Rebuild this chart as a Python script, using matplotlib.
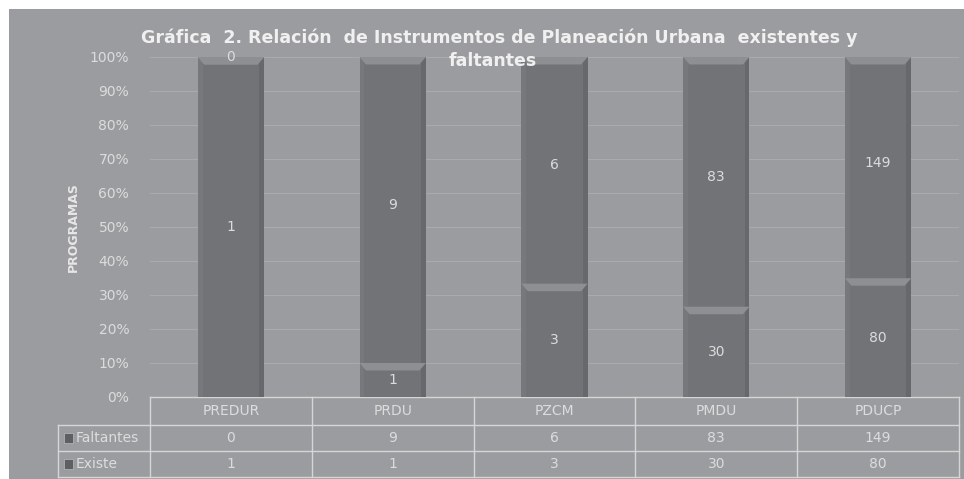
import matplotlib.pyplot as plt
import numpy as np
from matplotlib.patches import Polygon, Rectangle

programas = ["PREDUR", "PRDU", "PZCM", "PMDU", "PDUCP"]
existe = np.array([1, 1, 3, 30, 80])
faltantes = np.array([0, 9, 6, 83, 149])
series = [("Faltantes", faltantes), ("Existe", existe)]

bg = "#9b9c9f"
bar_c = "#727376"
bevel_c = "#8e8f92"
txt_c = "#dcdcdc"

fig = plt.figure(figsize=(9.64, 4.79), dpi=100)
fig.patch.set_facecolor("white")
# fondo gris
fig.add_artist(Rectangle((9/964, 0), 1, 1 - 9/479, transform=fig.transFigure,
                         facecolor=bg, edgecolor="none", zorder=-10))

ax = fig.add_axes([150/964, 1 - 397/479, 809/964, 340/479])
ax.set_facecolor("none")

total = existe + faltantes
p_ex = existe / total * 100
p_fa = faltantes / total * 100
x = np.arange(len(programas))
w = 0.41

ax.bar(x, p_ex, w, color=bar_c, edgecolor="none", zorder=3)
ax.bar(x, p_fa, w, bottom=p_ex, color=bar_c, edgecolor="none", zorder=3)

# bisel superior de cada segmento
for i in range(len(x)):
    for top in (p_ex[i], p_ex[i] + p_fa[i]):
        h = 2.2
        poly = Polygon([[x[i] - w/2, top], [x[i] + w/2, top],
                        [x[i] + w/2 - 0.04, top - h], [x[i] - w/2 + 0.04, top - h]],
                       closed=True, facecolor=bevel_c, edgecolor="none", zorder=4)
        ax.add_patch(poly)
    # bordes laterales
    ax.add_patch(Rectangle((x[i] - w/2, 0), 0.03, 100, facecolor="#77787b",
                           edgecolor="none", zorder=3.5))
    ax.add_patch(Rectangle((x[i] + w/2 - 0.03, 0), 0.03, 100, facecolor="#67686b",
                           edgecolor="none", zorder=3.5))

# etiquetas de datos
for i in range(len(x)):
    ax.text(x[i], p_ex[i] / 2, str(existe[i]), ha="center", va="center",
            color=txt_c, fontsize=10, zorder=5)
    ax.text(x[i], p_ex[i] + p_fa[i] / 2 + (1.5 if p_fa[i] > 0 else 0), str(faltantes[i]),
            ha="center", va="center", color=txt_c, fontsize=10, zorder=5)

ax.set_xlim(-0.5, len(x) - 0.5)
ax.set_ylim(0, 100)
ax.set_yticks(np.arange(0, 101, 10))
ax.set_yticklabels([f"{v}%" for v in range(0, 101, 10)], color=txt_c, fontsize=10)
ax.set_xticks([])
ax.tick_params(axis="y", length=0, pad=15)
ax.grid(axis="y", color="#a9aaac", linewidth=0.8, zorder=0)
for s in ax.spines.values():
    s.set_visible(False)

ax.set_ylabel("PROGRAMAS", color="#e6e6e6", fontsize=9, fontweight="bold")
ax.yaxis.set_label_coords(-70/809, 0.5)

# tabla de datos
line_c = "#d6d6d6"
n = len(programas)
rows_y = [0, -28/340, -54/340, -80/340]
xl = -92/809
kw = dict(transform=ax.transAxes, color=line_c, linewidth=1, clip_on=False)
ax.plot([0, 1], [rows_y[0]] * 2, **kw)
for ry in rows_y[1:]:
    ax.plot([xl, 1], [ry] * 2, **kw)
for k in range(n + 1):
    ax.plot([k / n] * 2, [rows_y[0], rows_y[3]], **kw)
ax.plot([xl] * 2, [rows_y[1], rows_y[3]], **kw)

for k, name in enumerate(programas):
    ax.text((k + 0.5) / n, (rows_y[0] + rows_y[1]) / 2, name, transform=ax.transAxes,
            ha="center", va="center", color=txt_c, fontsize=10)
for r, (lab, vals) in enumerate(series):
    yc = (rows_y[r + 1] + rows_y[r + 2]) / 2
    ax.add_patch(Rectangle((xl + 0.008, yc - 0.014), 0.01, 0.028, transform=ax.transAxes,
                           facecolor="#5e5f62", edgecolor="#bbbbbb", linewidth=0.5,
                           clip_on=False))
    ax.text(xl + 0.022, yc, lab, transform=ax.transAxes, ha="left", va="center",
            color=txt_c, fontsize=10)
    for k, v in enumerate(vals):
        ax.text((k + 0.5) / n, yc, str(v), transform=ax.transAxes,
                ha="center", va="center", color=txt_c, fontsize=10)

# titulo
fig.text(499/964, 1 - 38/479,
         "Gráfica  2. Relación  de Instrumentos de Planeación Urbana  existentes y",
         ha="center", va="center", color="#f0f0f0", fontsize=12.5, fontweight="bold")
fig.text(493/964, 1 - 61/479, "faltantes", ha="center", va="center",
         color="#f0f0f0", fontsize=12.5, fontweight="bold")

fig.savefig("out.png", dpi=100, facecolor=fig.get_facecolor())
